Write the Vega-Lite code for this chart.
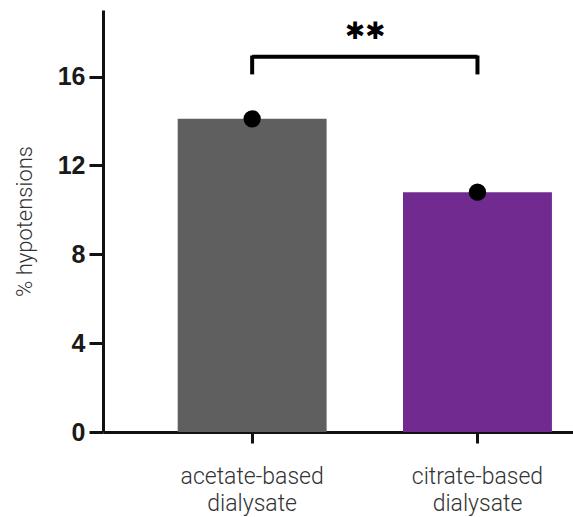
{
  "$schema": "https://vega.github.io/schema/vega-lite/v6.json",
  "width": 470,
  "height": 422,
  "autosize": {"type": "none"},
  "padding": {"left": 103, "top": 10, "right": 0, "bottom": 85},
  "background": "white",
  "config": {"view": {"stroke": null}},
  "datasets": {
    "bars": [
      {"group": "acetate-based dialysate", "value": 14.1},
      {"group": "citrate-based dialysate", "value": 10.8}
    ],
    "bracket": [
      {"from": "acetate-based dialysate", "to": "citrate-based dialysate", "y": 16.9}
    ],
    "legs": [
      {"group": "acetate-based dialysate", "y": 16.1, "y2": 16.95},
      {"group": "citrate-based dialysate", "y": 16.1, "y2": 16.95}
    ],
    "sig": [
      {"group": "acetate-based dialysate", "y": 18.0, "label": "✱✱"}
    ]
  },
  "layer": [
    {
      "data": {"name": "bars"},
      "mark": {"type": "bar"},
      "encoding": {
        "x": {
          "field": "group", "type": "nominal", "sort": null,
          "scale": {"paddingInner": 0.339, "paddingOuter": 0.2125, "align": 0.78},
          "axis": {
            "title": null,
            "labelAngle": 0,
            "labelExpr": "split(datum.value, ' ')",
            "labelFont": "Roboto",
            "labelFontWeight": 300,
            "labelFontSize": 23,
            "labelColor": "#333333",
            "labelLineHeight": 27,
            "labelPadding": 22,
            "labelBaseline": "top",
            "domainColor": "#111111",
            "domainWidth": 3,
            "tickColor": "#111111",
            "tickWidth": 3,
            "tickSize": 11
          }
        },
        "y": {
          "field": "value", "type": "quantitative",
          "scale": {"domain": [0, 19], "nice": false},
          "axis": {
            "title": "% hypotensions",
            "titleFont": "Roboto",
            "titleFontWeight": 300,
            "titleFontSize": 22,
            "titleColor": "#333333",
            "titlePadding": 21,
            "values": [0, 4, 8, 12, 16],
            "grid": false,
            "labelFont": "Liberation Sans",
            "labelFontWeight": "bold",
            "labelFontSize": 25,
            "labelColor": "#1a1a1a",
            "labelPadding": 4,
            "domainColor": "#111111",
            "domainWidth": 3,
            "tickColor": "#111111",
            "tickWidth": 3,
            "tickSize": 14
          }
        },
        "color": {
          "field": "group", "type": "nominal", "legend": null,
          "scale": {"range": ["#5e5f5e", "#712b90"]}
        }
      }
    },
    {
      "data": {"name": "bars"},
      "mark": {"type": "point", "filled": true, "color": "#000000", "size": 300, "opacity": 1},
      "encoding": {
        "x": {"field": "group", "type": "nominal", "sort": null},
        "y": {"field": "value", "type": "quantitative"}
      }
    },
    {
      "data": {"name": "bracket"},
      "mark": {"type": "rule", "color": "#000000", "strokeWidth": 4},
      "encoding": {
        "x": {"field": "from", "type": "nominal"},
        "x2": {"field": "to"},
        "y": {"field": "y", "type": "quantitative"}
      }
    },
    {
      "data": {"name": "legs"},
      "mark": {"type": "rule", "color": "#000000", "strokeWidth": 4},
      "encoding": {
        "x": {"field": "group", "type": "nominal"},
        "y": {"field": "y", "type": "quantitative"},
        "y2": {"field": "y2"}
      }
    },
    {
      "data": {"name": "sig"},
      "mark": {"type": "text", "font": "DejaVu Sans", "fontSize": 24, "fontWeight": "bold", "color": "#000000", "dx": 113, "baseline": "middle", "align": "center"},
      "encoding": {
        "x": {"field": "group", "type": "nominal"},
        "y": {"field": "y", "type": "quantitative"},
        "text": {"field": "label"}
      }
    }
  ]
}
